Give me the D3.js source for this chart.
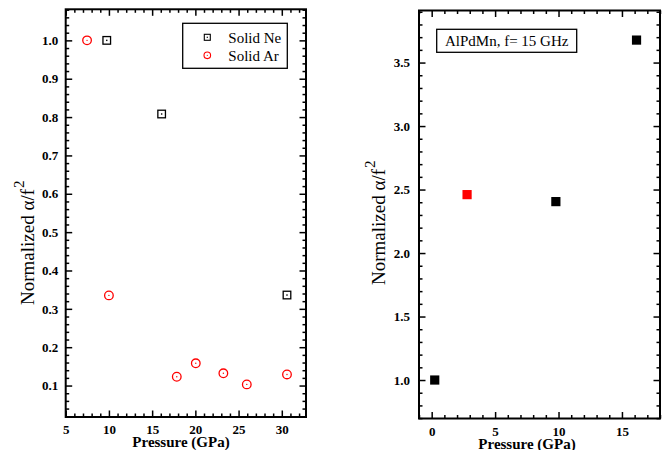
<!DOCTYPE html>
<html>
<head>
<meta charset="utf-8">
<script src="https://cdn.jsdelivr.net/npm/d3@7"></script>
<style>
  html, body { margin: 0; padding: 0; background: #fff; }
  svg { display: block; }
  text { font-family: "Liberation Serif", "Times New Roman", serif; }
</style>
</head>
<body>
<svg id="chart" width="672" height="450"></svg>
<script>
// ---- Data ----
const nePressure = [9.75, 16.1, 30.6];
const neAlpha = [1.0, 0.808, 0.336];
const arPressure = [7.47, 10.0, 17.85, 20.05, 23.24, 25.95, 30.6];
const arAlpha = [1.0, 0.335, 0.123, 0.158, 0.132, 0.103, 0.129];
const alPressure = [0.24, 2.79, 9.79, 16.15];
const alAlpha = [1.0, 2.46, 2.405, 3.677];
const alColor = ["#000", "#ff0000", "#000", "#000"];

const leftXTicks = [5, 10, 15, 20, 25, 30];
const leftYTicks = [0.1, 0.2, 0.3, 0.4, 0.5, 0.6, 0.7, 0.8, 0.9, 1.0];
const rightXTicks = [0, 5, 10, 15];
const rightYTicks = [1.0, 1.5, 2.0, 2.5, 3.0, 3.5];
const legendLabels = ["Solid Ne", "Solid Ar"];
const yLabel = "Normalized α/f";
const xLabel = "Pressure (GPa)";
const annotation = "AlPdMn, f= 15 GHz";

const svg = d3.select("#chart");

function range(a, b, step) {
  const out = [];
  const n = Math.round((b - a) / step);
  for (let i = 0; i <= n; i++) out.push(+(a + i * step).toFixed(4));
  return out;
}

function drawPanel(opts) {
  const { x, y, xMajor, xMinor, yMajor, yMinor, xPad, yPad, yFmt } = opts;
  const g = svg.append("g");
  const [x0, x1] = x.range();
  const [y0, y1] = y.range(); // y0 bottom, y1 top
  const MAJ = 6.5, MIN = 3.5;

  const styleAxis = sel => {
    sel.select(".domain").remove();
    sel.selectAll("line").attr("stroke", "#000").attr("stroke-width", 1.5);
    sel.selectAll("text")
      .attr("font-family", "Liberation Serif, Times New Roman, serif")
      .attr("font-weight", "bold").attr("font-size", 13).attr("fill", "#000");
  };

  // bottom
  g.append("g").attr("transform", `translate(0,${y0})`)
    .call(d3.axisBottom(x).tickValues(xMajor).tickSize(-MAJ).tickSizeOuter(0).tickPadding(xPad).tickFormat(d3.format("d")))
    .call(styleAxis);
  g.append("g").attr("transform", `translate(0,${y0})`)
    .call(d3.axisBottom(x).tickValues(xMinor).tickSize(-MIN).tickSizeOuter(0).tickFormat(""))
    .call(styleAxis);
  // top
  g.append("g").attr("transform", `translate(0,${y1})`)
    .call(d3.axisTop(x).tickValues(xMajor).tickSize(-MAJ).tickSizeOuter(0).tickFormat(""))
    .call(styleAxis);
  g.append("g").attr("transform", `translate(0,${y1})`)
    .call(d3.axisTop(x).tickValues(xMinor).tickSize(-MIN).tickSizeOuter(0).tickFormat(""))
    .call(styleAxis);
  // left
  g.append("g").attr("transform", `translate(${x0},0)`)
    .call(d3.axisLeft(y).tickValues(yMajor).tickSize(-MAJ).tickSizeOuter(0).tickPadding(yPad).tickFormat(yFmt))
    .call(styleAxis);
  g.append("g").attr("transform", `translate(${x0},0)`)
    .call(d3.axisLeft(y).tickValues(yMinor).tickSize(-MIN).tickSizeOuter(0).tickFormat(""))
    .call(styleAxis);
  // right
  g.append("g").attr("transform", `translate(${x1},0)`)
    .call(d3.axisRight(y).tickValues(yMajor).tickSize(-MAJ).tickSizeOuter(0).tickFormat(""))
    .call(styleAxis);
  g.append("g").attr("transform", `translate(${x1},0)`)
    .call(d3.axisRight(y).tickValues(yMinor).tickSize(-MIN).tickSizeOuter(0).tickFormat(""))
    .call(styleAxis);

  // frame
  g.append("rect")
    .attr("x", x0).attr("y", y1).attr("width", x1 - x0).attr("height", y0 - y1)
    .attr("fill", "none").attr("stroke", "#000").attr("stroke-width", 2);
  return g;
}

function yLabelText(g, bx, by) {
  const t = g.append("text")
    .attr("transform", `translate(${bx},${by}) rotate(-90)`)
    .attr("text-anchor", "start")
    .attr("font-size", 19).attr("fill", "#000");
  t.append("tspan").text(yLabel);
  t.append("tspan").attr("dx", 1).attr("dy", -10).attr("font-size", 15).text("2");
}

function xLabelText(g, cx, by) {
  g.append("text").attr("x", cx).attr("y", by)
    .attr("text-anchor", "middle").attr("font-weight", "bold")
    .attr("font-size", 15).attr("fill", "#000").text(xLabel);
}

// ---------------- Left panel ----------------
const xL = d3.scaleLinear().domain([5, 32.8]).range([65.7, 306]);
const yL = d3.scaleLinear().domain([0.018, 1.081]).range([417, 9.3]);
const gL = drawPanel({
  x: xL, y: yL,
  xMajor: leftXTicks, xMinor: range(5, 32, 1).filter(v => v % 5 !== 0),
  yMajor: leftYTicks, yMinor: range(0.02, 1.08, 0.02).filter(v => Math.abs(v * 10 - Math.round(v * 10)) > 1e-6),
  xPad: 7.5, yPad: 7.5, yFmt: d3.format(".1f")
});

// Solid Ar (red open circles with centre dot)
arPressure.forEach((p, i) => {
  const cx = xL(p), cy = yL(arAlpha[i]);
  gL.append("circle").attr("cx", cx).attr("cy", cy).attr("r", 4.3)
    .attr("fill", "none").attr("stroke", "#ff0000").attr("stroke-width", 1.3);
  gL.append("circle").attr("cx", cx).attr("cy", cy).attr("r", 0.7).attr("fill", "#ff0000");
});
// Solid Ne (black open squares with centre dot)
nePressure.forEach((p, i) => {
  const cx = xL(p), cy = yL(neAlpha[i]);
  gL.append("rect").attr("x", cx - 3.8).attr("y", cy - 3.8).attr("width", 7.6).attr("height", 7.6)
    .attr("fill", "none").attr("stroke", "#000").attr("stroke-width", 1.3);
  gL.append("rect").attr("x", cx - 0.7).attr("y", cy - 0.7).attr("width", 1.4).attr("height", 1.4).attr("fill", "#000");
});

// Legend
const lg = gL.append("g");
lg.append("rect").attr("x", 182.7).attr("y", 23.3).attr("width", 104.6).attr("height", 45)
  .attr("fill", "#fff").attr("stroke", "#000").attr("stroke-width", 1.3);
lg.append("rect").attr("x", 207.3 - 3).attr("y", 37.3 - 3).attr("width", 6).attr("height", 6)
  .attr("fill", "none").attr("stroke", "#000").attr("stroke-width", 1.1);
lg.append("rect").attr("x", 207.3 - 0.6).attr("y", 37.3 - 0.6).attr("width", 1.2).attr("height", 1.2).attr("fill", "#000");
lg.append("circle").attr("cx", 207.3).attr("cy", 55.3).attr("r", 3.3)
  .attr("fill", "none").attr("stroke", "#ff0000").attr("stroke-width", 1.1);
lg.append("circle").attr("cx", 207.3).attr("cy", 55.3).attr("r", 0.6).attr("fill", "#ff0000");
legendLabels.forEach((t, i) => {
  lg.append("text").attr("x", 228.3).attr("y", 42.5 + i * 18)
    .attr("font-size", 15).attr("fill", "#000").text(t);
});

yLabelText(gL, 34, 305);
xLabelText(gL, 181, 446.5);

// ---------------- Right panel ----------------
const xR = d3.scaleLinear().domain([-1, 18]).range([419, 660]);
const yR = d3.scaleLinear().domain([0.697, 3.91]).range([418.5, 10.5]);
const gR = drawPanel({
  x: xR, y: yR,
  xMajor: rightXTicks, xMinor: range(-1, 18, 1).filter(v => v % 5 !== 0),
  yMajor: rightYTicks, yMinor: range(0.7, 3.9, 0.1).filter(v => Math.abs(v * 2 - Math.round(v * 2)) > 1e-6),
  xPad: 8, yPad: 9, yFmt: d3.format(".1f")
});

alPressure.forEach((p, i) => {
  gR.append("rect").attr("x", xR(p) - 4.6).attr("y", yR(alAlpha[i]) - 4.6)
    .attr("width", 9.2).attr("height", 9.2).attr("fill", alColor[i]);
});

gR.append("rect").attr("x", 436.7).attr("y", 29.3).attr("width", 140).attr("height", 23)
  .attr("fill", "#fff").attr("stroke", "#000").attr("stroke-width", 1.3);
gR.append("text").attr("x", 506.7).attr("y", 46).attr("text-anchor", "middle")
  .attr("font-size", 15).attr("fill", "#000").text(annotation);

yLabelText(gR, 385, 285);
xLabelText(gR, 527, 448.5);
</script>
</body>
</html>
